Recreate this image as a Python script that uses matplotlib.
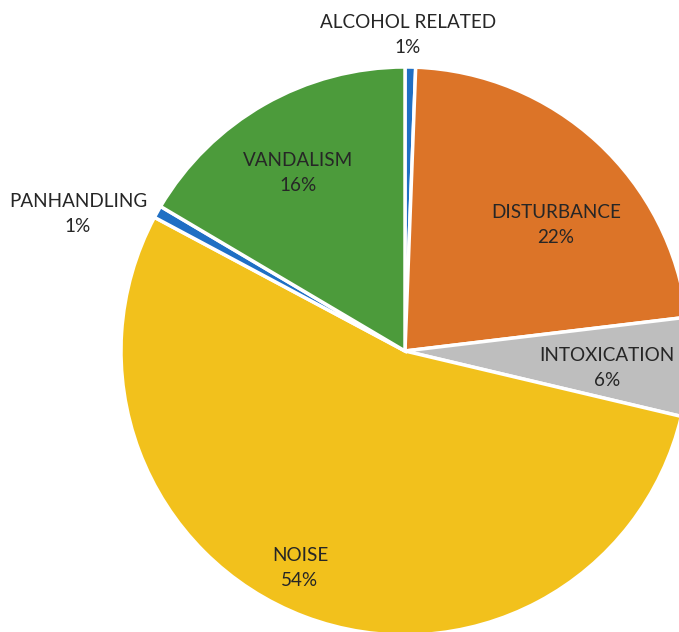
import matplotlib
matplotlib.use("Agg")
import matplotlib.pyplot as plt

categories = ["ALCOHOL RELATED", "DISTURBANCE", "INTOXICATION", "NOISE", "PANHANDLING", "VANDALISM"]
shares = [0.6, 22.5, 5.6, 54.1, 0.7, 16.5]
pct_labels = ["1%", "22%", "6%", "54%", "1%", "16%"]
colors = ["#1f6fc4", "#dc7428", "#bebebe", "#f2c11c", "#1f6fc4", "#4c9b3b"]

# label placement (pixel coords of the picture, y from top)
label_pos = [(408, 35), (556, 225), (607, 368), (300, 568), (78, 214), (298, 173)]

W, H = 679, 632
fig = plt.figure(figsize=(W / 100, H / 100), dpi=100)
ax = fig.add_axes([0, 0, 1, 1])

cx, cy, R = 405, H - 351, 284
ax.pie(shares, colors=colors, startangle=90, counterclock=False,
       center=(cx, cy), radius=R, frame=True,
       wedgeprops=dict(edgecolor="white", linewidth=2.5))
ax.set_xlim(0, W)
ax.set_ylim(0, H)
ax.set_aspect("equal")
ax.axis("off")

for name, pct, (x, y) in zip(categories, pct_labels, label_pos):
    ax.text(x, H - y, name + "\n" + pct, ha="center", va="center",
            fontsize=13.6, family=["Lato", "DejaVu Sans"], color="#262626",
            linespacing=1.6)

fig.savefig("out.png", dpi=100)
